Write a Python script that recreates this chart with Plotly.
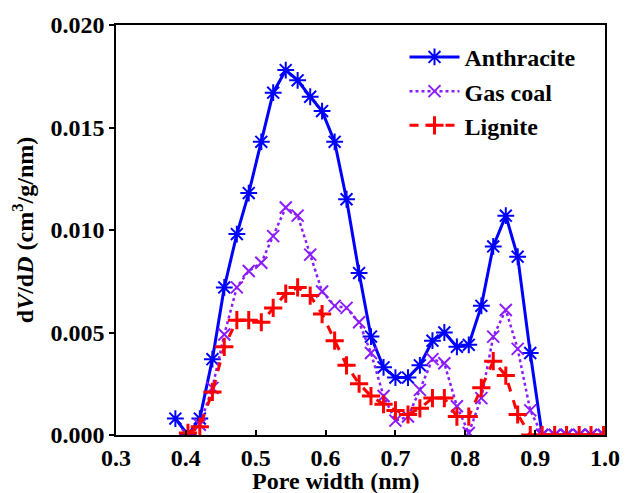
import plotly.graph_objects as go

x_all = [0.385, 0.403, 0.420, 0.438, 0.455, 0.473, 0.490, 0.508, 0.525, 0.543,
         0.560, 0.578, 0.595, 0.613, 0.630, 0.648, 0.665, 0.683, 0.700, 0.718,
         0.735, 0.753, 0.770, 0.788, 0.805, 0.823, 0.840, 0.858, 0.875, 0.893,
         0.910, 0.928, 0.945, 0.963, 0.980, 0.998]

anthracite = [0.0008, 0.0000, 0.0008, 0.0037, 0.0072, 0.0098, 0.0118, 0.0143, 0.0167, 0.0178,
              0.0173, 0.0165, 0.0158, 0.0143, 0.0115, 0.0079, 0.0048, 0.0033, 0.0028, 0.0028,
              0.0034, 0.0046, 0.0050, 0.0043, 0.0044, 0.0063, 0.0092, 0.0107, 0.0087, 0.0040,
              0.0000, 0.0000, 0.0000, 0.0000, 0.0000, 0.0000]

x_sub = x_all[1:]
gas_coal = [0.0000, 0.0005, 0.0023, 0.0049, 0.0072, 0.0080, 0.0084, 0.0097, 0.0111,
            0.0107, 0.0088, 0.0070, 0.0063, 0.0062, 0.0055, 0.0040, 0.0019, 0.0007, 0.0009,
            0.0022, 0.0037, 0.0035, 0.0014, 0.0001, 0.0018, 0.0048, 0.0061, 0.0042, 0.0012,
            0.0000, 0.0000, 0.0000, 0.0000, 0.0000, 0.0000]

lignite = [0.0001, 0.0004, 0.0021, 0.0043, 0.0056, 0.0056, 0.0055, 0.0062, 0.0069,
           0.0072, 0.0068, 0.0059, 0.0046, 0.0034, 0.0025, 0.0019, 0.0015, 0.0012, 0.0010,
           0.0013, 0.0018, 0.0018, 0.0009, 0.0009, 0.0023, 0.0036, 0.0029, 0.0010, 0.0000,
           0.0000, 0.0000, 0.0000, 0.0000, 0.0000, 0.0000]

x_ticks = [0.3, 0.4, 0.5, 0.6, 0.7, 0.8, 0.9, 1.0]
y_ticks = [0.000, 0.005, 0.010, 0.015, 0.020]

font_family = "Liberation Serif, Times New Roman, serif"
FS = 24

fig = go.Figure()
fig.add_trace(go.Scatter(
    x=x_all, y=anthracite, name="<b>Anthracite</b>", mode="lines+markers",
    line=dict(color="#0000ff", width=3),
    marker=dict(symbol="asterisk-open", size=14, color="#0000ff",
                line=dict(color="#0000ff", width=2)),
))
fig.add_trace(go.Scatter(
    x=x_sub, y=gas_coal, name="<b>Gas coal</b>", mode="lines+markers",
    line=dict(color="#8b1cff", width=2.5, dash="dot"),
    marker=dict(symbol="x-thin-open", size=12, color="#8b1cff",
                line=dict(color="#8b1cff", width=2)),
))
fig.add_trace(go.Scatter(
    x=x_sub, y=lignite, name="<b>Lignite</b>", mode="lines+markers",
    line=dict(color="#ff0000", width=3, dash="dash"),
    marker=dict(symbol="cross-thin-open", size=13, color="#ff0000",
                line=dict(color="#ff0000", width=3)),
))

axis_common = dict(
    showline=True, linecolor="black", linewidth=1.5, mirror=True,
    showgrid=False, zeroline=False, ticklen=5,
    tickcolor="black", tickwidth=1.5,
    tickfont=dict(family=font_family, size=FS, color="black"),
)

fig.update_layout(
    width=632, height=493,
    margin=dict(l=116, r=18, t=25, b=58),
    paper_bgcolor="white", plot_bgcolor="white",
    font=dict(family=font_family, color="black"),
    xaxis=dict(range=[0.3, 1.0], tickvals=x_ticks,
               ticktext=[f"<b>{v:.1f}</b>" for v in x_ticks],
               ticks="inside", **axis_common),
    yaxis=dict(range=[0.0, 0.020], tickvals=y_ticks,
               ticktext=[f"<b>{v:.3f}</b>" for v in y_ticks],
               ticks="outside",
               title=dict(text="<b>d<i>V</i>/d<i>D</i> (cm<sup>3</sup>/g/nm)</b>", standoff=10,
                          font=dict(family=font_family, size=FS, color="black")),
               **axis_common),
    legend=dict(x=0.59, y=0.976, xanchor="left", yanchor="top",
                bgcolor="rgba(0,0,0,0)", borderwidth=0,
                font=dict(family=font_family, size=FS, color="black"),
                itemwidth=50, tracegroupgap=0, traceorder="normal"),
    showlegend=True,
    annotations=[dict(text="<b>Pore width (nm)</b>", xref="paper", yref="paper",
                      x=0.45, y=-0.112, xanchor="center", yanchor="middle",
                      showarrow=False,
                      font=dict(family=font_family, size=FS, color="black"))],
)

fig.write_html("out.html")
